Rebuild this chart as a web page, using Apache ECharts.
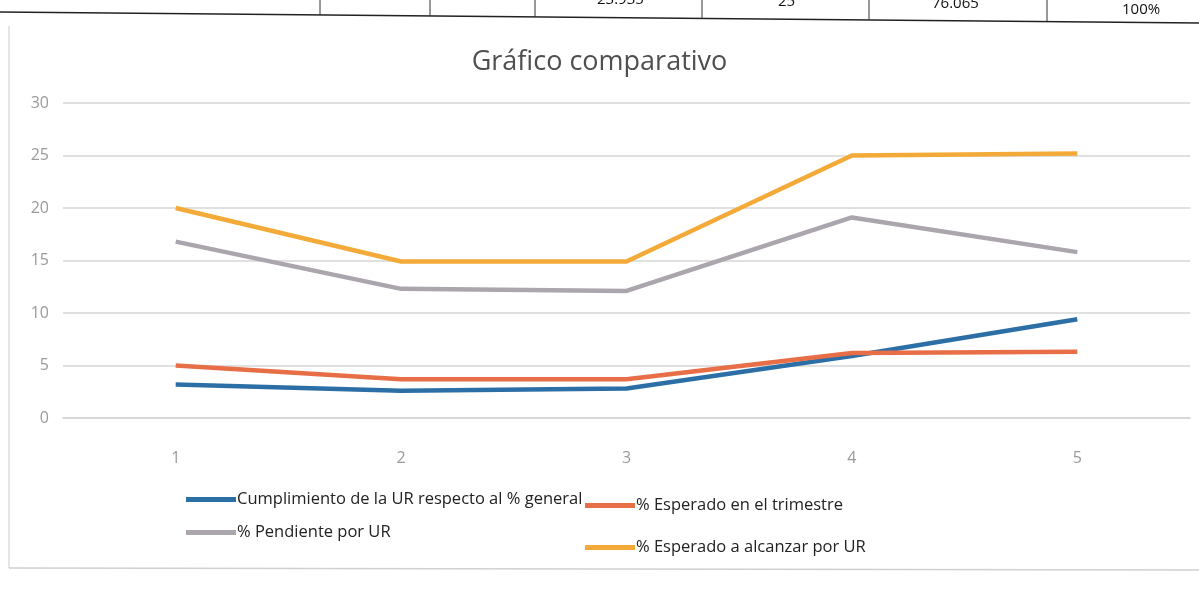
<!DOCTYPE html>
<html>
<head>
<meta charset="utf-8">
<script src="https://cdn.jsdelivr.net/npm/echarts@6/dist/echarts.min.js"></script>
<style>
  html, body { margin: 0; padding: 0; background: #fff; }
  #chart { width: 1199px; height: 591px; }
</style>
</head>
<body>
<div id="chart"></div>
<script>
// categories and series
var categories = ['1', '2', '3', '4', '5'];
var cumplimiento = [3.2, 2.6, 2.8, 5.9, 9.4];
var esperadoTrimestre = [5.0, 3.7, 3.7, 6.2, 6.3];
var pendiente = [16.8, 12.3, 12.1, 19.1, 15.8];
var esperadoAlcanzar = [20.0, 14.9, 14.9, 25.0, 25.2];
var yTicks = [0, 5, 10, 15, 20, 25, 30];

// fragment of the table printed above the chart
var tableTexts = ['23.935', '25', '76.065', '100%'];

var names = [
    'Cumplimiento de la UR respecto al % general',
    '% Esperado en el trimestre',
    '% Pendiente por UR',
    '% Esperado a alcanzar por UR'
];
var colors = ['#2c6fa6', '#e86e47', '#aba6ad', '#f4aa38'];
var font = '"Open Sans", "Noto Sans", sans-serif';

var chart = echarts.init(document.getElementById('chart'));

function legendAt(name, left, top) {
    return {
        data: [name],
        left: left,
        top: top,
        icon: 'rect',
        itemWidth: 50,
        itemHeight: 5,
        itemGap: 4,
        selectedMode: false,
        textStyle: {color: '#222', fontSize: 16.5, fontFamily: font, padding: [0, 0, 0, -4]}
    };
}

function lineSeries(name, data, color) {
    return {
        name: name,
        type: 'line',
        data: data,
        symbol: 'none',
        lineStyle: {width: 4.5, color: color},
        itemStyle: {color: color}
    };
}

var option = {
    backgroundColor: '#fff',
    animation: false,
    title: {
        text: 'Gráfico comparativo',
        left: 'center',
        top: 44,
        textStyle: {color: '#4f4f4f', fontSize: 27, fontWeight: 500, fontFamily: font}
    },
    legend: [
        legendAt(names[0], 181, 486),
        legendAt(names[1], 580, 492),
        legendAt(names[2], 181, 519),
        legendAt(names[3], 580, 534)
    ],
    grid: {left: 63, right: 9, top: 103, bottom: 173},
    xAxis: {
        type: 'category',
        data: categories,
        axisLine: {lineStyle: {color: '#d4d4d4', width: 1.5}},
        axisTick: {show: false},
        axisLabel: {color: '#9a9a9a', fontSize: 16, fontFamily: font, margin: 32}
    },
    yAxis: {
        type: 'value',
        min: yTicks[0],
        max: yTicks[yTicks.length - 1],
        interval: 5,
        axisLine: {show: false},
        axisTick: {show: false},
        axisLabel: {color: '#9a9a9a', fontSize: 16, fontFamily: font, margin: 14},
        splitLine: {lineStyle: {color: '#d6d6d6', width: 1.5}}
    },
    series: [
        lineSeries(names[0], cumplimiento, colors[0]),
        lineSeries(names[1], esperadoTrimestre, colors[1]),
        lineSeries(names[2], pendiente, colors[2]),
        lineSeries(names[3], esperadoAlcanzar, colors[3])
    ],
    graphic: [
        // chart frame from the spreadsheet
        {type: 'line', shape: {x1: 9, y1: 26, x2: 9, y2: 568}, style: {stroke: '#dcdcdc', lineWidth: 1.5}},
        {type: 'line', shape: {x1: 9, y1: 568, x2: 1199, y2: 570}, style: {stroke: '#d0d0d0', lineWidth: 1.5}},
        // table fragment at the top of the page
        {type: 'line', shape: {x1: 0, y1: 12, x2: 1199, y2: 23}, style: {stroke: '#222', lineWidth: 1.5}},
        {type: 'line', shape: {x1: 320, y1: 0, x2: 320, y2: 15}, style: {stroke: '#333', lineWidth: 1}},
        {type: 'line', shape: {x1: 430, y1: 0, x2: 430, y2: 16}, style: {stroke: '#333', lineWidth: 1}},
        {type: 'line', shape: {x1: 535, y1: 0, x2: 535, y2: 17}, style: {stroke: '#333', lineWidth: 1}},
        {type: 'line', shape: {x1: 702, y1: 0, x2: 702, y2: 18}, style: {stroke: '#333', lineWidth: 1}},
        {type: 'line', shape: {x1: 869, y1: 0, x2: 869, y2: 20}, style: {stroke: '#333', lineWidth: 1}},
        {type: 'line', shape: {x1: 1047, y1: 0, x2: 1047, y2: 21}, style: {stroke: '#333', lineWidth: 1}},
        {type: 'text', left: 597, top: -8, style: {text: tableTexts[0], fontSize: 15, fontFamily: font, fill: '#111'}},
        {type: 'text', left: 778, top: -6, style: {text: tableTexts[1], fontSize: 15, fontFamily: font, fill: '#111'}},
        {type: 'text', left: 932, top: -4, style: {text: tableTexts[2], fontSize: 15, fontFamily: font, fill: '#111'}},
        {type: 'text', left: 1122, top: 2, style: {text: tableTexts[3], fontSize: 15, fontFamily: font, fill: '#111'}}
    ]
};

chart.setOption(option);
</script>
</body>
</html>
